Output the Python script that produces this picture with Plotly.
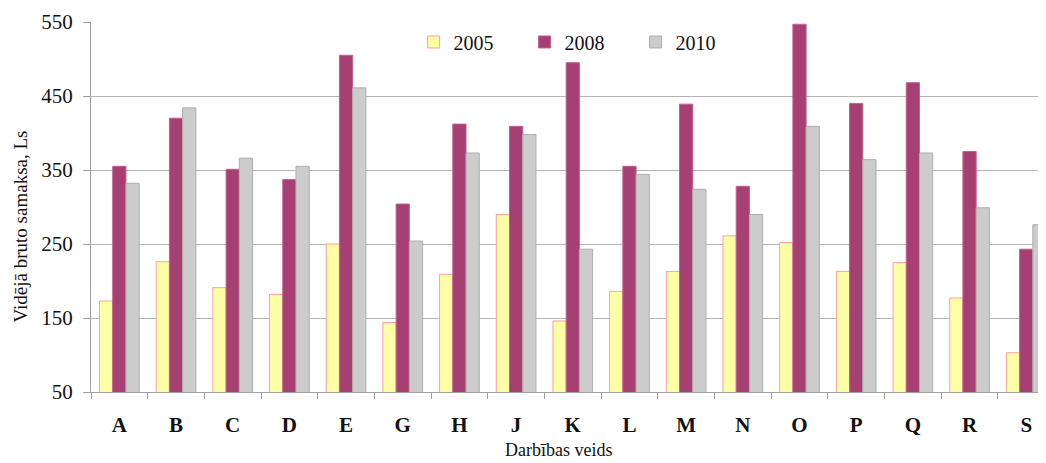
import plotly.graph_objects as go

categories = ["A", "B", "C", "D", "E", "G", "H", "J", "K", "L", "M", "N", "O", "P", "Q", "R", "S"]
values_2005 = [173, 226, 191, 182, 250, 144, 209, 290, 146, 186, 213, 261, 252, 213, 225, 177, 103]
values_2008 = [355, 420, 351, 337, 505, 304, 412, 409, 495, 355, 439, 328, 547, 440, 468, 375, 243]
values_2010 = [332, 434, 366, 355, 461, 254, 373, 398, 243, 344, 324, 290, 409, 364, 373, 299, 276]
series_names = ["2005", "2008", "2010"]
y_ticks = [50, 150, 250, 350, 450, 550]

FONT = "Liberation Serif"

fig = go.Figure()
fig.add_trace(go.Bar(name=series_names[0], x=categories, y=values_2005,
                     marker=dict(color="#FFFFA6", line=dict(color="#FF9F9F", width=1))))
fig.add_trace(go.Bar(name=series_names[1], x=categories, y=values_2008,
                     marker=dict(color="#A64073", line=dict(color="#C0608F", width=1))))
fig.add_trace(go.Bar(name=series_names[2], x=categories, y=values_2010,
                     marker=dict(color="#CCCCCC", line=dict(color="#AEAEAE", width=1))))

fig.update_layout(
    width=1046, height=463,
    margin=dict(l=83, r=0, t=14, b=79, autoexpand=False),
    paper_bgcolor="white", plot_bgcolor="white",
    barmode="group", bargap=0.30, bargroupgap=0,
    font=dict(family=FONT, color="#111111"),
    showlegend=True,
    legend=dict(orientation="h", x=0.335, xanchor="left", y=0.946, yanchor="middle",
                font=dict(family=FONT, size=20, color="#111111"),
                entrywidth=66, entrywidthmode="pixels", bgcolor="rgba(0,0,0,0)",
                traceorder="normal"),
    xaxis=dict(type="category", range=[-0.5, 16.49], automargin=False,
               showline=True, linecolor="#A0A0A0", linewidth=1,
               ticks="outside", ticklen=6, tickcolor="#A0A0A0", tickson="boundaries",
               tickfont=dict(family=FONT, size=21, color="#111111", weight="bold"),
               ticklabelstandoff=14, showgrid=False),
    yaxis=dict(range=[50, 550], tickvals=y_ticks, ticktext=[str(v) for v in y_ticks],
               automargin=False,
               showline=True, linecolor="#A0A0A0", linewidth=1,
               ticks="outside", ticklen=7, tickcolor="#A0A0A0",
               showgrid=True, gridcolor="#B4B4B4", gridwidth=1,
               tickfont=dict(family=FONT, size=21, color="#111111"),
               ticklabelstandoff=6, zeroline=False),
    annotations=[
        dict(text="Vidējā bruto samaksa, Ls", textangle=-90, xref="paper", yref="paper",
             x=(12 - 83) / 963, y=(384 - 218.5) / 370, xanchor="center", yanchor="middle",
             showarrow=False, font=dict(family=FONT, size=19, color="#111111")),
        dict(text="Darbības veids", xref="paper", yref="paper",
             x=(550 - 83) / 963, y=(384 - 454) / 370, xanchor="center", yanchor="bottom",
             showarrow=False, font=dict(family=FONT, size=18, color="#111111")),
    ],
)

fig.write_html("out.html")
